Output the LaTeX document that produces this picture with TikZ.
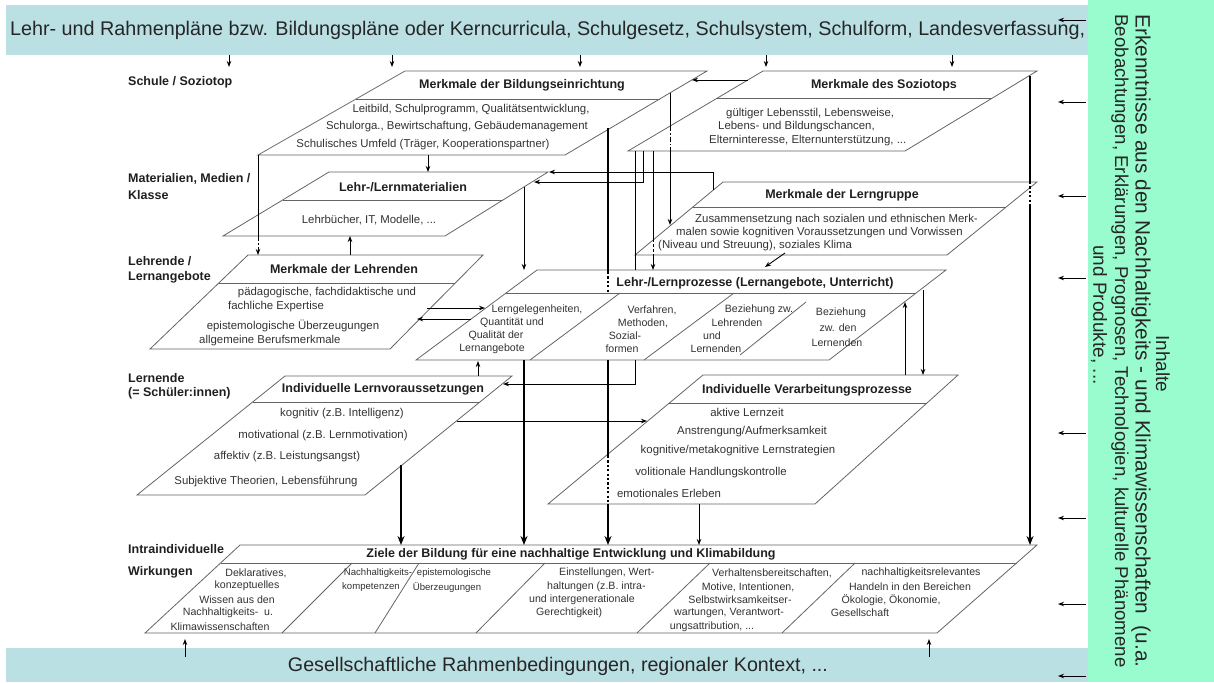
\documentclass[tikz,border=0pt]{standalone}
\usepackage{fontspec}
\setmainfont{Liberation Sans}
\usetikzlibrary{arrows.meta}
\definecolor{bandteal}{RGB}{186,224,227}
\definecolor{bandgreen}{RGB}{153,252,206}
\definecolor{edgegray}{RGB}{100,100,100}
\definecolor{txtgray}{RGB}{50,50,50}
\newcommand{\paragram}[7]{%
  \coordinate (#1-tl) at (#2);
  \coordinate (#1-tr) at (#3);
  \coordinate (#1-br) at (#4);
  \coordinate (#1-bl) at (#5);
  \coordinate (#1-dl) at (#6);
  \coordinate (#1-dr) at (#7);
  \draw[pedge] (#1-tl) -- (#1-tr) -- (#1-br) -- (#1-bl) -- cycle;
  \draw[pedge] (#1-dl) -- (#1-dr);
}
\begin{document}
\begin{tikzpicture}[x=1pt,y=-1pt,
  pedge/.style={draw=edgegray,line width=0.8pt},
  conn/.style={line width=0.9pt,-{Stealth[length=6pt,width=4.5pt]}},
  plain/.style={line width=0.9pt},
  heavy/.style={line width=2.4pt},
  heavyarr/.style={line width=2.4pt,-{Stealth[length=9pt,width=7pt]}},
  dotseg/.style={line width=2.4pt,dash pattern=on 2.2pt off 2.2pt},
  dashdot/.style={line width=0.9pt,dash pattern=on 5pt off 2pt on 1.5pt off 2pt},
  dashseg/.style={line width=0.9pt,dash pattern=on 3pt off 2pt},
  ttl/.style={font=\fontsize{12.5}{14}\selectfont\bfseries,text=black!88,inner sep=0pt},
  body/.style={font=\fontsize{11.4}{13}\selectfont,text=txtgray,inner sep=0pt},
  small/.style={font=\fontsize{10.6}{12}\selectfont,text=txtgray,inner sep=0pt},
  tiny/.style={font=\fontsize{9.6}{11}\selectfont,text=txtgray,inner sep=0pt},
  lbl/.style={font=\fontsize{12.5}{14}\selectfont\bfseries,text=black!88,inner sep=0pt,anchor=west},
  band/.style={font=\fontsize{19}{22}\selectfont,text=black!85,inner sep=0pt}]
\useasboundingbox (0,0) rectangle (1214,682);
% bands
\fill[bandteal] (6,5) rectangle (1088,55);
\fill[bandteal] (6,648) rectangle (1088,682);
\fill[bandgreen] (1088,0) rectangle (1214,682);
\node[band,anchor=west] (topband) at (10,30) {\resizebox{1075pt}{!}{Lehr- und Rahmenpläne bzw. Bildungspläne oder Kerncurricula, Schulgesetz, Schulsystem, Schulform, Landesverfassung,}};
\node[band] (botband) at (558,666) {\resizebox{540pt}{!}{Gesellschaftliche Rahmenbedingungen, regionaler Kontext, ...}};
\node[band,rotate=-90] (g0) at (1163,364) {Inhalte};
\node[band,rotate=-90] (g1) at (1141,341) {\resizebox{653pt}{!}{Erkenntnisse aus den Nachhaltigkeits - und Klimawissenschaften\ \ (u.a.}};
\node[band,rotate=-90] (g2) at (1120,341) {\resizebox{653pt}{!}{Beobachtungen, Erklärungen, Prognosen, Technologien, kulturelle Phänomene}};
\node[band,rotate=-90] (g3) at (1099,315) {und Produkte, ...};
% band arrows
\foreach \x [count=\i] in {229,392,580,766,952} {
  \coordinate (ta\i) at (\x,55); \coordinate (tb\i) at (\x,67);
  \draw[conn] (ta\i) -- (tb\i);}
\foreach \x [count=\i] in {185,929} {
  \coordinate (ba\i) at (\x,657); \coordinate (bb\i) at (\x,639);
  \draw[conn] (ba\i) -- (bb\i);}
\foreach \y [count=\i] in {20,102,196,278,433,518,604,676} {
  \coordinate (ra\i) at (1086,\y); \coordinate (rb\i) at (1058,\y);
  \draw[conn] (ra\i) -- (rb\i);}
% level labels
\node[lbl] (l1) at (128,82) {Schule / Soziotop};
\node[lbl] (l2) at (128,179) {Materialien, Medien /};
\node[lbl] (l2b) at (128,195) {Klasse};
\node[lbl] (l3) at (128,261) {Lehrende /};
\node[lbl] (l3b) at (128,277) {Lernangebote};
\node[lbl] (l4) at (128,378) {Lernende};
\node[lbl] (l4b) at (128,393) {(= Schüler:innen)};
\node[lbl] (l5) at (128,549) {Intraindividuelle};
\node[lbl] (l5b) at (128,572) {Wirkungen};
% parallelograms
\paragram{be}{405,71}{707,71}{565,155}{258,155}{356,99}{660,99}
\paragram{sz}{763,71}{1037,71}{905,151}{628,151}{717,98}{992,98}
\paragram{ma}{329,172}{548,172}{445,236}{223,236}{283,200}{503,200}
\paragram{lg}{723,182}{1037,182}{947,255}{635,255}{693,207}{1006,207}
\paragram{le}{248,255}{483,255}{390,349}{150,349}{219,283}{455,283}
\paragram{lp}{537,270}{946,270}{829,360}{416,360}{506,293}{916,293}
\paragram{lv}{285,376}{512,376}{365,495}{137,495}{253,402}{480,402}
\paragram{vp}{703,375}{958,375}{815,504}{548,504}{669,403}{927,403}
\paragram{zi}{240,545}{1037,545}{937,633}{145,633}{221,563}{1017,563}
% inner separators
\draw[pedge] (620,293) -- (530,360);
\draw[pedge] (734,293) -- (644,360);
\draw[pedge] (806,302) -- (740,355);
\draw[pedge] (352,563) -- (282,633);
\draw[pedge] (419,563) -- (375,633);
\draw[pedge] (545,563) -- (476,633);
\draw[pedge] (710,563) -- (637,633);
\draw[pedge] (855,563) -- (782,633);
% texts: Bildungseinrichtung
\node[ttl] (be-t) at (522,85) {Merkmale der Bildungseinrichtung};
\node[body] (be-1) at (471,110) {Leitbild, Schulprogramm, Qualitätsentwicklung,};
\node[body] (be-2) at (457,127) {Schulorga., Bewirtschaftung, Gebäudemanagement};
\node[body] (be-3) at (423,145) {Schulisches Umfeld (Träger, Kooperationspartner)};
% Soziotop
\node[ttl] (sz-t) at (884,85) {Merkmale des Soziotops};
\node[body,anchor=west] (sz-1) at (726,114) {gültiger Lebensstil, Lebensweise,};
\node[body,anchor=west] (sz-2) at (718,127) {Lebens- und Bildungschancen,};
\node[body,anchor=west] (sz-3) at (709,141) {Elterninteresse, Elternunterstützung, ...};
% Materialien
\node[ttl] (ma-t) at (403,187) {Lehr-/Lernmaterialien};
\node[body] (ma-1) at (369,220) {Lehrbücher, IT, Modelle, ...};
% Lerngruppe
\node[ttl] (lg-t) at (842,195) {Merkmale der Lerngruppe};
\node[body,anchor=west] (lg-1) at (695,220) {Zusammensetzung nach sozialen und ethnischen Merk-};
\node[body,anchor=west] (lg-2) at (676,233) {malen sowie kognitiven Voraussetzungen und Vorwissen};
\node[body,anchor=west] (lg-3) at (658,246) {(Niveau und Streuung), soziales Klima};
% Lehrende
\node[ttl] (le-t) at (344,269) {Merkmale der Lehrenden};
\node[body] (le-1) at (327,293) {pädagogische, fachdidaktische und};
\node[body,anchor=west] (le-2) at (228,307) {fachliche Expertise};
\node[body] (le-3) at (293,326) {epistemologische Überzeugungen};
\node[body,anchor=west] (le-4) at (199,341) {allgemeine Berufsmerkmale};
% Lernprozesse
\node[ttl] (lp-t) at (755,283) {Lehr-/Lernprozesse (Lernangebote, Unterricht)};
\node[small] (lp-a1) at (537,310) {Lerngelegenheiten,};
\node[small] (lp-a2) at (512,323) {Quantität und};
\node[small] (lp-a3) at (496,336) {Qualität der};
\node[small] (lp-a4) at (492,349) {Lernangebote};
\node[small] (lp-b1) at (652,310) {Verfahren,};
\node[small] (lp-b2) at (643,323) {Methoden,};
\node[small] (lp-b3) at (625,336) {Sozial-};
\node[small] (lp-b4) at (622,349) {formen};
\node[small] (lp-c1) at (759,310) {Beziehung zw.};
\node[small] (lp-c2) at (737,323) {Lehrenden};
\node[small] (lp-c3) at (712,336) {und};
\node[small] (lp-c4) at (716,349) {Lernenden};
\node[small] (lp-d1) at (841,313) {Beziehung};
\node[small] (lp-d2) at (838,328) {zw. den};
\node[small] (lp-d3) at (837,343) {Lernenden};
% Lernvoraussetzungen
\node[ttl] (lv-t) at (383,389) {Individuelle Lernvoraussetzungen};
\node[body] (lv-1) at (342,414) {kognitiv (z.B. Intelligenz)};
\node[body] (lv-2) at (323,436) {motivational (z.B. Lernmotivation)};
\node[body] (lv-3) at (287,457) {affektiv (z.B. Leistungsangst)};
\node[body] (lv-4) at (266,482) {Subjektive Theorien, Lebensführung};
% Verarbeitungsprozesse
\node[ttl] (vp-t) at (807,390) {Individuelle Verarbeitungsprozesse};
\node[body] (vp-1) at (747,412) {aktive Lernzeit};
\node[body] (vp-2) at (752,432) {Anstrengung/Aufmerksamkeit};
\node[body] (vp-3) at (738,451) {kognitive/metakognitive Lernstrategien};
\node[body] (vp-4) at (711,473) {volitionale Handlungskontrolle};
\node[body] (vp-5) at (669,493) {emotionales Erleben};
% Ziele
\node[ttl] (zi-t) at (571,554) {Ziele der Bildung für eine nachhaltige Entwicklung und Klimabildung};
\node[small] (zi-a1) at (256,573) {Deklaratives,};
\node[small] (zi-a2) at (247,586) {konzeptuelles};
\node[small] (zi-a3) at (237,600) {Wissen aus den};
\node[small] (zi-a4) at (228,613) {Nachhaltigkeits-\ \ u.};
\node[small] (zi-a5) at (220,627) {Klimawissenschaften};
\node[tiny] (zi-b1) at (378,573) {Nachhaltigkeits-};
\node[tiny] (zi-b2) at (371,587) {kompetenzen};
\node[tiny] (zi-c1) at (454,573) {epistemologische};
\node[tiny] (zi-c2) at (447,587) {Überzeugungen};
\node[small,anchor=west] (zi-d1) at (559,573) {Einstellungen, Wert-};
\node[small,anchor=west] (zi-d2) at (547,587) {haltungen (z.B. intra-};
\node[small,anchor=west] (zi-d3) at (529,600) {und intergenerationale};
\node[small,anchor=west] (zi-d4) at (536,613) {Gerechtigkeit)};
\node[small,anchor=west] (zi-e1) at (712,573) {Verhaltensbereitschaften,};
\node[small] (zi-e2) at (748,587) {Motive, Intentionen,};
\node[small] (zi-e3) at (740,600) {Selbstwirksamkeitser-};
\node[small] (zi-e4) at (729,613) {wartungen, Verantwort-};
\node[small] (zi-e5) at (712,627) {ungsattribution, ...};
\node[small] (zi-f1) at (921,573) {nachhaltigkeitsrelevantes};
\node[small] (zi-f2) at (910,587) {Handeln in den Bereichen};
\node[small] (zi-f3) at (891,600) {Ökologie, Ökonomie,};
\node[small] (zi-f4) at (860,613) {Gesellschaft};
% connector points
\coordinate (c1a) at (428,155); \coordinate (c1b) at (428,172);
\coordinate (c2a) at (258,155); \coordinate (c2b) at (258,236); \coordinate (c2c) at (258,249); \coordinate (c2d) at (258,255);
\coordinate (c3a) at (350,255); \coordinate (c3b) at (350,236);
\coordinate (c4a) at (524,187); \coordinate (c4b) at (524,270);
\coordinate (c5a) at (713,190); \coordinate (c5b) at (713,172); \coordinate (c5c) at (549,172);
\coordinate (c6a) at (643,151); \coordinate (c6b) at (643,182); \coordinate (c6c) at (534,182);
\coordinate (c7a) at (653,151); \coordinate (c7b) at (653,239); \coordinate (c7c) at (653,255); \coordinate (c7d) at (653,270);
\coordinate (c8a) at (635,151); \coordinate (c8b) at (635,270); \coordinate (c8c) at (635,360); \coordinate (c8d) at (635,384); \coordinate (c8e) at (503,384);
\coordinate (c9a) at (670,93); \coordinate (c9b) at (670,126); \coordinate (c9c) at (670,151); \coordinate (c9d) at (670,225);
\coordinate (c10a) at (748,80); \coordinate (c10b) at (692,80);
\coordinate (c11a) at (785,253); \coordinate (c11b) at (765,267);
\coordinate (c12a) at (427,308); \coordinate (c12b) at (485,308);
\coordinate (c13a) at (471,319); \coordinate (c13b) at (417,319);
\coordinate (c14a) at (478,376); \coordinate (c14b) at (478,361);
\coordinate (c15a) at (457,421); \coordinate (c15b) at (647,421);
\coordinate (c16a) at (923,290); \coordinate (c16b) at (923,375);
\coordinate (c17a) at (905,375); \coordinate (c17b) at (905,302);
\coordinate (c18a) at (699,504); \coordinate (c18b) at (699,545);
% thin connectors
\draw[conn] (c1a) -- (c1b);
\draw[plain] (c2a) -- (c2b); \draw[dashdot] (c2b) -- (c2c); \draw[conn] (c2c) -- (c2d);
\draw[conn] (c3a) -- (c3b);
\draw[conn] (c4a) -- (c4b);
\draw[conn] (c5a) -- (c5b) -- (c5c);
\draw[conn] (c6a) -- (c6b) -- (c6c);
\draw[plain] (c7a) -- (c7b); \draw[dashseg] (c7b) -- (c7c); \draw[conn] (c7c) -- (c7d);
\draw[plain] (c8a) -- (c8b); \draw[conn] (c8c) -- (c8d) -- (c8e);
\draw[plain] (c9a) -- (c9b); \draw[dashdot] (c9b) -- (c9c); \draw[conn] (c9c) -- (c9d);
\draw[conn] (c10a) -- (c10b);
\draw[conn] (c11a) -- (c11b);
\draw[conn] (c12a) -- (c12b);
\draw[conn] (c13a) -- (c13b);
\draw[conn] (c14a) -- (c14b);
\draw[conn] (c15a) -- (c15b);
\draw[conn] (c16a) -- (c16b);
\draw[conn] (c17a) -- (c17b);
\draw[conn] (c18a) -- (c18b);
% heavy connectors
\coordinate (h1a) at (401,465); \coordinate (h1b) at (401,545);
\coordinate (h2a) at (524,360); \coordinate (h2b) at (524,545);
\coordinate (h3a) at (608,128); \coordinate (h3b) at (608,272); \coordinate (h3c) at (608,293);
\coordinate (h3g) at (608,360);
\coordinate (h3d) at (608,456); \coordinate (h3e) at (608,504); \coordinate (h3f) at (608,545);
\coordinate (h4a) at (1030,76); \coordinate (h4b) at (1030,182); \coordinate (h4c) at (1030,205); \coordinate (h4d) at (1030,545);
\draw[heavyarr] (h1a) -- (h1b);
\draw[heavyarr] (h2a) -- (h2b);
\draw[heavy] (h3a) -- (h3b); \draw[dotseg] (h3b) -- (h3c); \draw[heavy] (h3g) -- (h3d);
\draw[dotseg] (h3d) -- (h3e); \draw[heavyarr] (h3e) -- (h3f);
\draw[heavy] (h4a) -- (h4b); \draw[dotseg] (h4b) -- (h4c); \draw[heavyarr] (h4c) -- (h4d);
\end{tikzpicture}
\end{document}
